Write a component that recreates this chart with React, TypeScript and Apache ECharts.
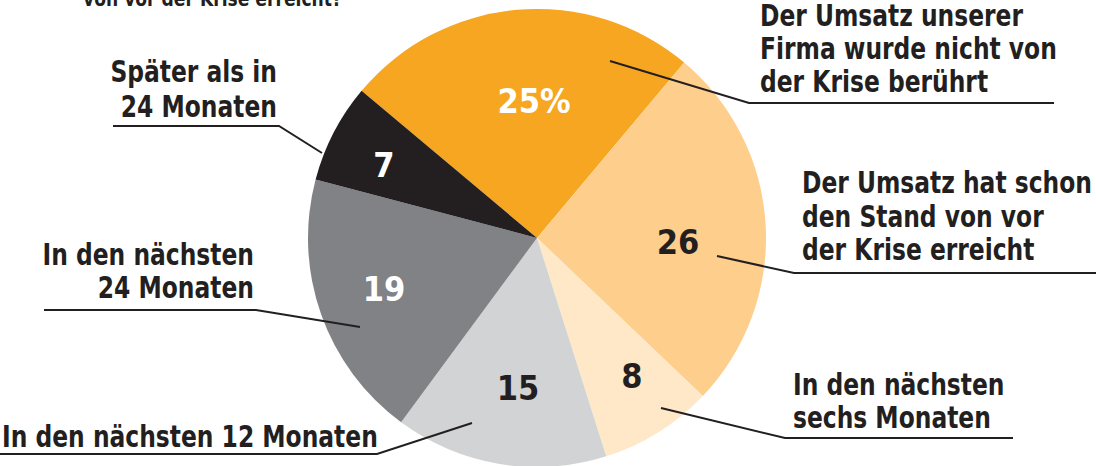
import React, { useEffect, useRef } from "react";
import * as echarts from "echarts";

// ---- data ----
const CATEGORIES = [
  "Der Umsatz unserer Firma wurde nicht von der Krise berührt",
  "Der Umsatz hat schon den Stand von vor der Krise erreicht",
  "In den nächsten sechs Monaten",
  "In den nächsten 12 Monaten",
  "In den nächsten 24 Monaten",
  "Später als in 24 Monaten",
];
const VALUES = [25, 26, 8, 15, 19, 7];
const LABEL_LINES = [
  ["Der Umsatz unserer", "Firma wurde nicht von", "der Krise berührt"],
  ["Der Umsatz hat schon", "den Stand von vor", "der Krise erreicht"],
  ["In den nächsten", "sechs Monaten"],
  ["In den nächsten 12 Monaten"],
  ["In den nächsten", "24 Monaten"],
  ["Später als in", "24 Monaten"],
];
const TITLE_TAIL = "von vor der Krise erreicht?";

// ---- styles / layout ----
const COLORS = ["#F6A620", "#FDCE8C", "#FEE8C8", "#D1D3D4", "#808285", "#231F20"];
const NUM_COLORS = ["#FFFFFF", "#231F20", "#231F20", "#231F20", "#FFFFFF", "#FFFFFF"];
const INK = "#231F20";
const FONT = "'Liberation Sans Narrow', 'DejaVu Sans Condensed', 'Arial Narrow', sans-serif";
const CENTER = [537, 238];
const RADIUS = 229;
const NUM_POS = [
  [534, 101],
  [678, 242],
  [632, 376],
  [518, 388],
  [384, 289],
  [384, 165],
];
const ANNOT = [
  { x: 760, align: "left", base: [26, 59, 92], line: [[1054, 103], [749, 103], [610, 61]] },
  { x: 802, align: "left", base: [193, 227, 260], line: [[1096, 273], [794, 273], [717, 256]] },
  { x: 793, align: "left", base: [395, 428], line: [[1013, 438], [785, 438], [661, 408]] },
  { x: 2, align: "left", base: [447], line: [[0, 454], [377, 454], [472, 423]] },
  { x: 254, align: "right", base: [265, 298], line: [[44, 310], [256, 310], [360, 327]] },
  { x: 277, align: "right", base: [82, 117], line: [[113, 126], [279, 126], [322, 153]] },
];
const FS = 30;
const SX = 0.867;

export default function App() {
  const ref = useRef<HTMLDivElement>(null);
  useEffect(() => {
    document.body.style.margin = "0";
    if (!ref.current) return;
    const chart = echarts.init(ref.current, undefined, { renderer: "svg" });
    const graphics: any[] = [];
    graphics.push({
      type: "text",
      x: 83,
      y: 6 - 0.3465 * 22,
      scaleX: SX,
      style: {
        text: TITLE_TAIL,
        font: `bold 22px ${FONT}`,
        fill: INK,
        align: "left",
        verticalAlign: "middle",
      },
    });
    ANNOT.forEach((a, i) => {
      LABEL_LINES[i].forEach((t, j) => {
        graphics.push({
          type: "text",
          x: a.x,
          y: a.base[j] - 0.3465 * FS,
          scaleX: SX,
          style: {
            text: t,
            font: `bold ${FS}px ${FONT}`,
            fill: INK,
            align: a.align,
            verticalAlign: "middle",
          },
        });
      });
      graphics.push({
        type: "polyline",
        shape: { points: a.line },
        style: { stroke: INK, lineWidth: 2, fill: null },
        z: 100,
      });
    });

    chart.setOption({
      animation: false,
      backgroundColor: "#FFFFFF",
      series: [
        {
          type: "pie",
          center: CENTER,
          radius: RADIUS,
          startAngle: 140,
          clockwise: true,
          silent: true,
          data: CATEGORIES.map((name, i) => ({
            name,
            value: VALUES[i],
            itemStyle: { color: COLORS[i] },
            label: { color: NUM_COLORS[i] },
          })),
          itemStyle: { borderWidth: 0 },
          label: {
            show: true,
            position: "inside",
            fontFamily: FONT,
            fontWeight: "bold",
            fontSize: 34,
            formatter: (p: any) => (p.dataIndex === 0 ? `${p.value}%` : `${p.value}`),
          },
          labelLine: { show: false },
          labelLayout: (p: any) => ({
            x: NUM_POS[p.dataIndex][0],
            y: NUM_POS[p.dataIndex][1],
          }),
        },
      ],
      graphic: { elements: graphics },
    });
    return () => chart.dispose();
  }, []);
  return <div ref={ref} style={{ width: 1096, height: 466 }} />;
}
